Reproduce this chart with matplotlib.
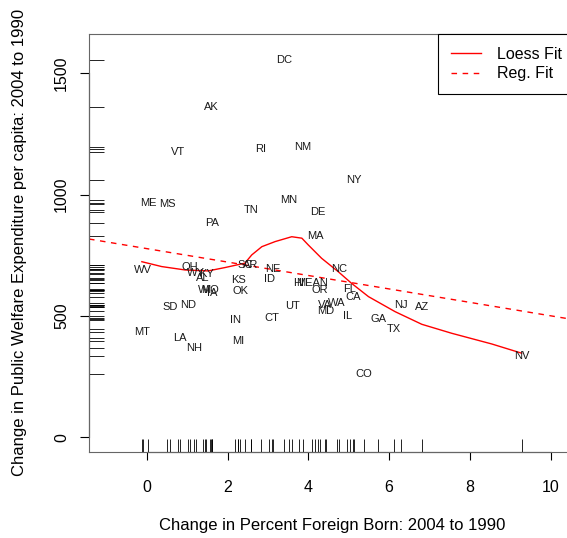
import numpy as np
import matplotlib
matplotlib.use("Agg")
import matplotlib.pyplot as plt

plt.rcParams['font.family'] = ['Liberation Sans', 'DejaVu Sans']

# state labels and values
states = ["DC", "AK", "VT", "RI", "NM", "NY", "ME", "MS", "MN", "TN", "DE", "PA", "MA",
          "WV", "OH", "WY", "KY", "AL", "WI", "MO", "IA", "SC", "AR", "NE", "ID", "KS",
          "OK", "HI", "MEAN", "OR", "NC", "FL", "CA", "UT", "VA", "WA", "MD", "IL", "CT",
          "NJ", "AZ", "GA", "TX", "CO", "SD", "ND", "IN", "MT", "LA", "NH", "MI", "NV"]
foreign_change = [3.40, 1.59, 0.77, 2.83, 3.87, 5.13, 0.03, 0.50, 3.52, 2.58, 4.24, 1.62, 4.17,
                  -0.09, 1.07, 1.22, 1.47, 1.39, 1.44, 1.57, 1.62, 2.43, 2.58, 3.13, 3.03, 2.26,
                  2.31, 3.77, 4.09, 4.29, 4.76, 5.03, 5.11, 3.60, 4.41, 4.71, 4.44, 4.96, 3.10,
                  6.29, 6.81, 5.73, 6.12, 5.38, 0.58, 1.02, 2.19, -0.12, 0.82, 1.17, 2.26, 9.29]
welfare_change = [1556, 1362, 1177, 1189, 1197, 1061, 966, 962, 979, 938, 929, 884, 830,
                  690, 703, 678, 674, 657, 608, 608, 595, 711, 711, 694, 653, 649,
                  604, 637, 637, 608, 694, 612, 579, 542, 546, 554, 521, 501, 492,
                  546, 538, 488, 447, 262, 538, 546, 484, 435, 410, 369, 398, 336]

# loess curve as drawn
loess_x = [-0.12, 0.37, 0.95, 1.52, 1.94, 2.43, 2.60, 2.85, 3.18, 3.59, 3.84, 4.00, 4.33,
           4.74, 5.07, 5.49, 6.15, 6.81, 7.55, 8.54, 9.28]
loess_y = [724, 704, 690, 686, 700, 718, 752, 786, 807, 827, 821, 793, 738,
           683, 635, 580, 518, 466, 429, 385, 347]

# regression line
reg_intercept = 778
reg_slope = -27.7

fig = plt.figure(figsize=(5.67, 5.38), dpi=100)
ax = fig.add_axes([0.157, 0.160, 0.857, 0.777])

xlim = (-1.428, 10.60)
ylim = (-60, 1663)
ax.set_xlim(xlim)
ax.set_ylim(ylim)

for i in range(len(states)):
    ax.text(foreign_change[i], welfare_change[i], states[i], fontsize=8,
            ha="center", va="center", color="#1a1a1a")

ax.plot(loess_x, loess_y, color="red", lw=1.0, label="Loess Fit")
xx = np.array(xlim)
ax.plot(xx, reg_intercept + reg_slope * xx, color="red", lw=1.0,
        linestyle=(0, (4, 4)), label="Reg. Fit")

# rugs
ax.vlines(foreign_change, 0, 0.03, transform=ax.get_xaxis_transform(),
          color="black", lw=0.6)
ax.hlines(welfare_change, 0, 0.03, transform=ax.get_yaxis_transform(),
          color="black", lw=0.6)

for s in ax.spines.values():
    s.set_color("#666666")
    s.set_linewidth(0.8)

ax.set_xticks([0, 2, 4, 6, 8, 10])
ax.set_yticks([0, 500, 1000, 1500])
ax.tick_params(axis="x", length=6, width=0.8, labelsize=11.5, pad=14)
ax.tick_params(axis="y", length=6.5, width=0.8, labelsize=11.5, pad=8)
for lab in ax.get_yticklabels():
    lab.set_rotation(90)
    lab.set_va("center")

# axis lines between first and last tick
ax.plot([0, 10], [0, 0], transform=ax.get_xaxis_transform(), color="black",
        lw=0.8, clip_on=False)
ax.plot([0, 0], [0, 1500], transform=ax.get_yaxis_transform(), color="black",
        lw=0.8, clip_on=False)

ax.set_xlabel("Change in Percent Foreign Born: 2004 to 1990", fontsize=12, labelpad=17)
ax.set_ylabel("Change in Public Welfare Expenditure per capita: 2004 to 1990",
              fontsize=12, labelpad=19)

leg = ax.legend(loc="upper right", bbox_to_anchor=(1, 1), borderaxespad=0,
                fontsize=11.5, fancybox=False, framealpha=1, edgecolor="black",
                handlelength=1.9, handletextpad=1.0, borderpad=0.8, labelspacing=0.3)
leg.get_frame().set_linewidth(0.8)

fig.savefig("out.png", dpi=100)
